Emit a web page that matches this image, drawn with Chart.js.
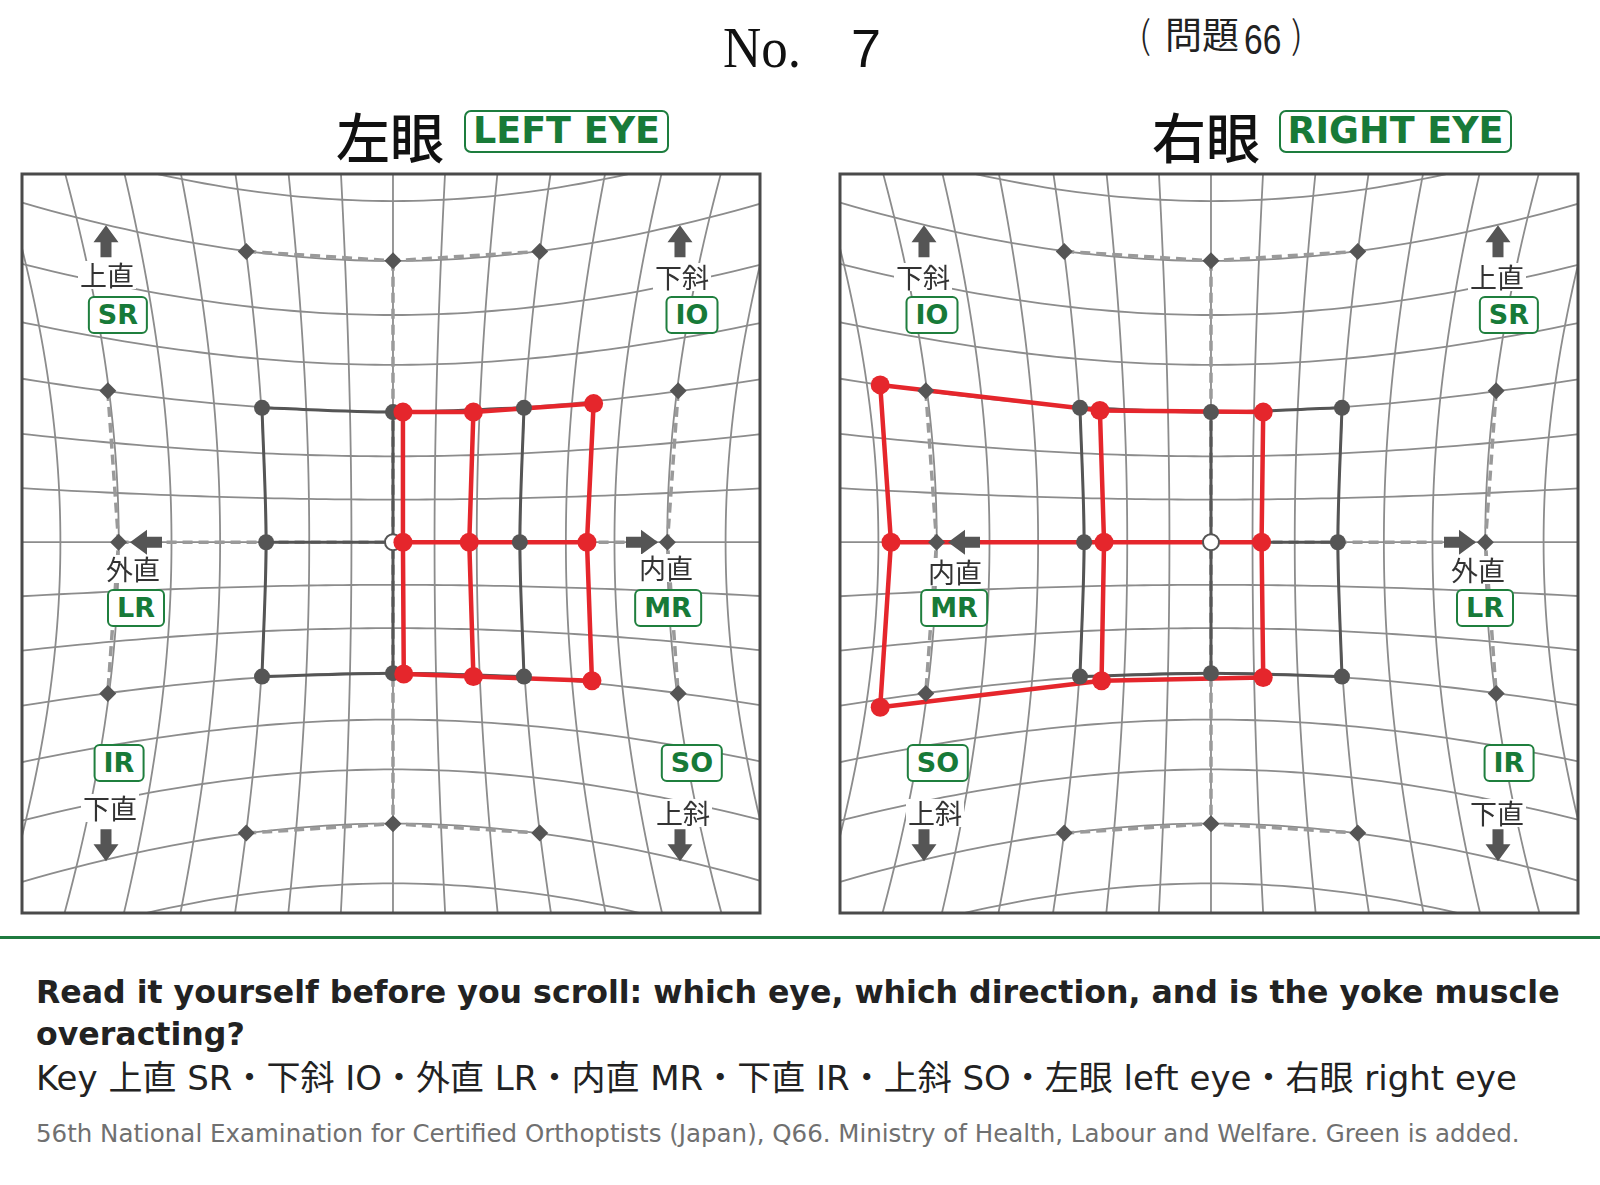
<!DOCTYPE html>
<html><head><meta charset="utf-8">
<script src="https://cdn.jsdelivr.net/npm/chart.js@4.4.1/dist/chart.umd.min.js"></script>
<style>
html,body{margin:0;padding:0;background:#fff;}
#page{position:relative;width:1600px;height:1185px;overflow:hidden;font-family:"DejaVu Sans",sans-serif;}
.abs{position:absolute;white-space:nowrap;line-height:1;}
.cjk{font-family:"Noto Sans CJK JP","Noto Sans CJK SC",sans-serif;}
.titlebox{position:absolute;box-sizing:border-box;height:43px;border:2.5px solid #1d7d3e;border-radius:7px;color:#187a38;
  font-family:"DejaVu Sans";font-weight:bold;font-size:36.5px;line-height:38px;text-align:center;background:#fff;}
.mlab{position:absolute;transform:translate(-50%,-50%);font-family:"Noto Sans CJK JP",sans-serif;font-size:27px;color:#333;
  background:#fff;line-height:28px;padding:0 2px;white-space:nowrap;}
.mbox{position:absolute;transform:translate(-50%,-50%);box-sizing:border-box;font-family:"DejaVu Sans";font-weight:bold;font-size:27px;
  color:#177a38;background:#fff;border:2px solid #1f7f3e;border-radius:6px;height:38px;line-height:34px;padding:0 8px;text-align:center;white-space:nowrap;}
.panel{position:absolute;top:164px;width:758px;height:759px;}
</style></head>
<body><div id="page">
  <div class="abs" style="left:723px;top:19px;font-family:'Liberation Serif';font-size:57px;color:#111;transform-origin:0 0;transform:scaleX(0.93);">No.</div>
  <div class="abs" style="left:851px;top:21px;font-family:'Liberation Sans';font-size:54px;color:#111;">7</div>
  <div class="abs cjk" style="left:1139px;top:14px;font-size:38px;font-weight:300;color:#222;">(</div>
  <div class="abs cjk" style="left:1165px;top:15px;font-size:37px;color:#222;">問題</div>
  <div class="abs" style="left:1244px;top:18px;font-family:'Liberation Sans';font-size:43px;color:#222;transform-origin:0 0;transform:scaleX(0.78);">66</div>
  <div class="abs cjk" style="left:1291px;top:14px;font-size:38px;font-weight:300;color:#222;">)</div>

  <div class="abs cjk" style="left:336px;top:109px;font-size:54px;font-weight:500;color:#111;">左眼</div>
  <div class="titlebox" style="left:464px;top:110px;width:205px;">LEFT EYE</div>
  <div class="abs cjk" style="left:1152px;top:109px;font-size:54px;font-weight:500;color:#111;">右眼</div>
  <div class="titlebox" style="left:1279px;top:110px;width:233px;">RIGHT EYE</div>

  <div class="panel" style="left:12px;"><canvas id="cLeft" width="758" height="759"></canvas></div>
  <div class="panel" style="left:830px;"><canvas id="cRight" width="758" height="759"></canvas></div>

  <div class="abs" style="left:0;top:936px;width:1600px;height:3px;background:#1f7a3f;"></div>
  <div class="abs" style="left:36px;top:971px;font-weight:bold;font-size:31.6px;line-height:42px;color:#222;">Read it yourself before you scroll: which eye, which direction, and is the yoke muscle<br>overacting?</div>
  <div class="abs" style="left:36px;top:1061px;font-size:34px;color:#222;font-family:'DejaVu Sans','Noto Sans CJK JP',sans-serif;">Key 上直 SR・下斜 IO・外直 LR・内直 MR・下直 IR・上斜 SO・左眼 left eye・右眼 right eye</div>
  <div class="abs" style="left:36px;top:1122px;font-size:24.5px;color:#707070;">56th National Examination for Certified Orthoptists (Japan), Q66. Ministry of Health, Labour and Welfare. Green is added.</div>
</div>
<script>
// ---------------- data (Hess screen units, ~degrees) ----------------
const outerTop    = [[-17.7, 34.2], [0, 33.1], [17.7, 34.2]];
const outerBottom = [[-17.7,-34.2], [0,-33.1], [17.7,-34.2]];
const outerLeft   = [[-34.4, 17.8], [-33.1, 0], [-34.4,-17.8]];
const outerRight  = [[ 34.4, 17.8], [ 33.1, 0], [ 34.4,-17.8]];
const innerTop    = [[-15.8, 15.8], [0, 15.3], [15.8, 15.8]];
const innerMiddle = [[-15.3, 0],    [0, 0],    [15.3, 0]];
const innerBottom = [[-15.8,-15.8], [0,-15.4], [15.8,-15.8]];
const leftEyeTop     = [[1.2, 15.3], [9.7, 15.3], [24.2, 16.3]];
const leftEyeMiddle  = [[1.2, 0.0],  [9.2, 0.0],  [23.4, 0.0]];
const leftEyeBottom  = [[1.3,-15.5], [9.7,-15.8], [24.0,-16.3]];
const rightEyeTop    = [[-39.9, 18.5], [-13.4, 15.5], [6.3, 15.3]];
const rightEyeMiddle = [[-38.6, 0.0],  [-12.9, 0.0],  [6.1, 0.0]];
const rightEyeBottom = [[-39.9,-19.4], [-13.2,-16.3], [6.3,-15.9]];
const gridDegrees = [-35,-30,-25,-20,-15,-10,-5,0,5,10,15,20,25,30,35];
const xRange = [-44.75, 44.27];
const yRange = [-43.6, 43.3];

// ---------------- layout / decoration ----------------
const leftLabels = [
  ['t','上直',-286,-267],['b','SR',-275,-227],['t','下斜',289,-265],['b','IO',299,-227],
  ['t','外直',-260,27],['b','LR',-257,66],['t','内直',273,26],['b','MR',275,66],
  ['b','IR',-274,221],['t','下直',-283,266],['b','SO',299,221],['t','上斜',290,271]];
const rightLabels = [
  ['t','下斜',-288,-265],['b','IO',-279,-227],['t','上直',286,-265],['b','SR',298,-227],
  ['t','内直',-256,30],['b','MR',-257,66],['t','外直',267,28],['b','LR',274,66],
  ['b','SO',-273,221],['t','上斜',-276,271],['b','IR',298,221],['t','下直',286,271]];
const arrowDefs = [ // tip offset from centre (px), direction
  [-287,-317,0,-1],[287,-317,0,-1],[-287,319,0,1],[287,319,0,1],[-263,0,-1,0],[265,0,1,0]];

const D2R = Math.PI/180, RAD = 180/Math.PI;
const toPt = ([x,y]) => ({x,y});
const cols = (a,b,c) => [0,1,2].map(i => [a[i],b[i],c[i]]);

const hessGrid = {
  id:'hessGrid',
  beforeDatasetsDraw(chart){
    const {ctx, chartArea:a, scales:{x,y}} = chart;
    ctx.save();
    ctx.beginPath(); ctx.rect(a.left,a.top,a.right-a.left,a.bottom-a.top); ctx.clip();
    ctx.strokeStyle = '#8c8c8c'; ctx.lineWidth = 1.8;
    const P = (h,v) => [x.getPixelForValue(RAD*Math.tan(h*D2R)/Math.cos(v*D2R)),
                        y.getPixelForValue(RAD*Math.tan(v*D2R)/Math.cos(h*D2R))];
    for (const k of gridDegrees){
      for (const mode of [0,1]){
        ctx.beginPath();
        for (let t=-70; t<=70; t+=1){
          const [px,py] = mode ? P(k,t) : P(t,k);
          if (t===-70) ctx.moveTo(px,py); else ctx.lineTo(px,py);
        }
        ctx.stroke();
      }
    }
    ctx.restore();
  }
};
const frame = {
  id:'frame',
  afterDraw(chart){
    const {ctx, chartArea:a, scales:{x,y}} = chart;
    const cx = x.getPixelForValue(0), cy = y.getPixelForValue(0);
    ctx.save();
    ctx.fillStyle = '#555';
    for (const [dx,dy,ux,uy] of arrowDefs){
      const tx = cx+dx, ty = cy+dy, L = 32, HL = 17, HW = 12.5, SW = 5.5;
      const px = -uy, py = ux;
      const bx = tx-ux*HL, by = ty-uy*HL, ex = tx-ux*L, ey = ty-uy*L;
      ctx.beginPath();
      ctx.moveTo(tx,ty);
      ctx.lineTo(bx+px*HW, by+py*HW);
      ctx.lineTo(bx+px*SW, by+py*SW);
      ctx.lineTo(ex+px*SW, ey+py*SW);
      ctx.lineTo(ex-px*SW, ey-py*SW);
      ctx.lineTo(bx-px*SW, by-py*SW);
      ctx.lineTo(bx-px*HW, by-py*HW);
      ctx.closePath(); ctx.fill();
    }
    ctx.strokeStyle = '#4a4a4a'; ctx.lineWidth = 3;
    ctx.strokeRect(a.left, a.top, a.right-a.left, a.bottom-a.top);
    ctx.restore();
  }
};

function lineSet(pts, color, width, dash, order, tension){
  return {data: pts.map(toPt), showLine:true, borderColor:color, borderWidth:width, borderDash:dash,
          pointRadius:0, pointHoverRadius:0, tension:tension||0, order, borderCapStyle:'butt'};
}
function pointSet(pts, style, radius, fill, stroke, bw, order){
  return {data: pts.map(toPt), showLine:false, pointStyle:style, pointRadius:radius, pointHoverRadius:radius,
          backgroundColor:fill, borderColor:stroke, pointBorderWidth:bw, borderWidth:bw, order};
}

function makePanel(id, eTop, eMid, eBot, labels){
  const ds = [];
  const DASH = [10,6];
  for (const seg of [outerTop, outerBottom, outerLeft, outerRight,
                     [outerTop[1], outerBottom[1]], [outerLeft[1], outerRight[1]]])
    ds.push(lineSet(seg, '#9a9a9a', 3.5, DASH, 9));
  for (const seg of [innerTop, innerMiddle, innerBottom, ...cols(innerTop, innerMiddle, innerBottom)])
    ds.push(lineSet(seg, '#555555', 3, [], 8, 0.3));
  for (const seg of [eTop, eMid, eBot, ...cols(eTop, eMid, eBot)])
    ds.push(lineSet(seg, '#e5262c', 4.5, [], 7));
  const innerPts = [...innerTop, innerMiddle[0], innerMiddle[2], ...innerBottom];
  ds.push(pointSet(innerPts, 'circle', 8, '#555555', '#555555', 0, 6));
  ds.push(pointSet([innerMiddle[1]], 'circle', 8, '#ffffff', '#555555', 2, 6));
  ds.push(pointSet([...eTop, ...eMid, ...eBot], 'circle', 9.5, '#e5262c', '#e5262c', 0, 5));
  ds.push(pointSet([...outerTop, ...outerBottom, ...outerLeft, ...outerRight], 'rectRot', 8.5, '#555555', '#555555', 0, 4));

  const chart = new Chart(document.getElementById(id), {
    type:'scatter',
    data:{datasets:ds},
    options:{
      responsive:false, animation:false, devicePixelRatio:1, events:[],
      layout:{padding:10},
      plugins:{legend:{display:false}, tooltip:{enabled:false}},
      scales:{
        x:{type:'linear', min:xRange[0], max:xRange[1], display:false},
        y:{type:'linear', min:yRange[0], max:yRange[1], display:false}
      }
    },
    plugins:[hessGrid, frame]
  });
  const wrap = document.getElementById(id).parentElement;
  const cx = chart.scales.x.getPixelForValue(0), cy = chart.scales.y.getPixelForValue(0);
  for (const [kind, txt, dx, dy] of labels){
    const d = document.createElement('div');
    d.className = kind==='t' ? 'mlab' : 'mbox';
    d.textContent = txt;
    d.style.left = (cx+dx)+'px'; d.style.top = (cy+dy)+'px';
    wrap.appendChild(d);
  }
}
makePanel('cLeft', leftEyeTop, leftEyeMiddle, leftEyeBottom, leftLabels);
makePanel('cRight', rightEyeTop, rightEyeMiddle, rightEyeBottom, rightLabels);
</script>
</body></html>
